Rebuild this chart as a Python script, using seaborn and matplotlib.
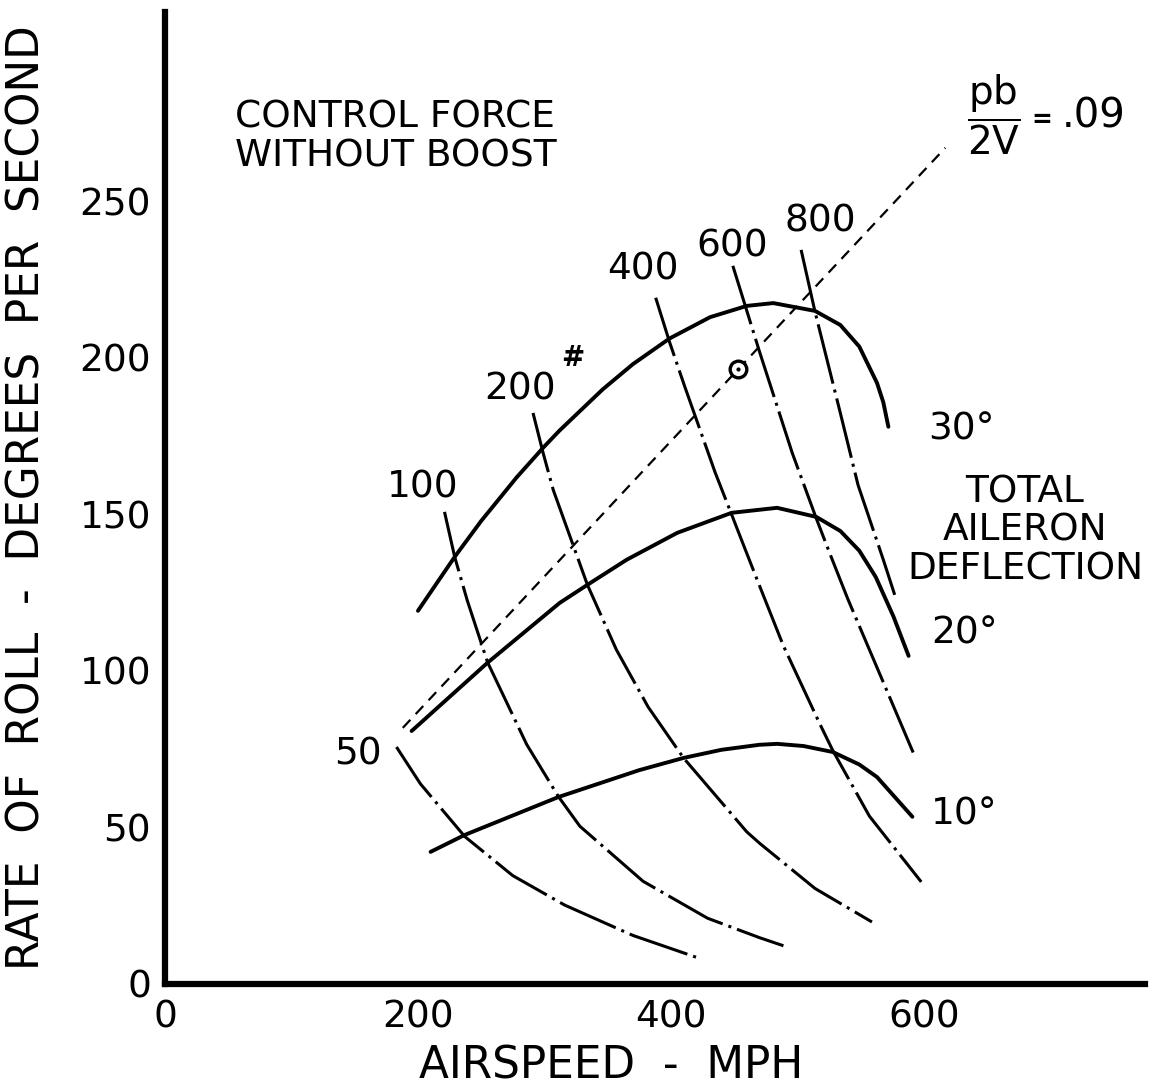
import matplotlib
matplotlib.use("Agg")
import matplotlib.pyplot as plt
import seaborn as sns

# Rate of roll vs airspeed
# solid curves = total aileron deflection (airspeed mph, roll deg/sec)
v30 = [200, 229, 250, 278, 299, 312, 346, 370, 399, 431, 460, 481, 514, 534, 549, 563, 568, 572]
r30 = [119.2, 136.4, 147.9, 161.8, 171.3, 176.8, 189.9, 198.0, 206.2, 213.0, 216.6, 217.5, 215.0, 210.5, 203.6, 192.0, 185.8, 178.0]

v20 = [195, 255, 312, 334, 365, 405, 448, 484, 515, 534, 549, 562, 576, 588]
r20 = [80.8, 102.6, 121.7, 127.5, 135.5, 144.1, 150.5, 152.1, 149.2, 144.7, 138.4, 130.0, 117.4, 104.8]

v10 = [210, 237, 311, 375, 410, 440, 470, 484, 505, 528, 549, 563, 591]
r10 = [42.2, 47.6, 59.7, 68.3, 72.2, 74.8, 76.4, 76.7, 76.0, 74.1, 70.1, 66.1, 53.4]

# dash-dot lines = stick force in lb
v50 = [183, 202, 237, 275, 316, 370, 421]
r50 = [75.7, 63.9, 47.1, 34.6, 25.2, 15.5, 8.4]

v100 = [221, 229, 239, 255, 286, 311, 328, 378, 429, 470, 489]
r100 = [150.8, 136.5, 122.5, 102.8, 76.5, 59.9, 50.4, 32.8, 21.0, 14.8, 12.2]

v200 = [291, 299, 307, 334, 357, 382, 410, 460, 470, 514, 559]
r200 = [182.4, 169.6, 157.8, 127.5, 106.7, 88.5, 72.2, 48.6, 45.0, 30.5, 19.8]

v400 = [388, 399, 411, 435, 448, 459, 470, 489, 518, 528, 557, 598]
r400 = [219.2, 205.0, 190.8, 163.4, 150.0, 138.6, 127.3, 108.0, 82.9, 74.6, 53.6, 32.6]

v600 = [449, 460, 470, 496, 515, 526, 540, 571, 593]
r600 = [229.4, 215.1, 202.1, 169.6, 148.7, 137.2, 122.9, 93.5, 72.6]

v800 = [503, 514, 534, 548, 568, 577]
r800 = [234.5, 214.7, 182.4, 159.4, 135.5, 124.3]

# pb/2V = .09 line and the marked point on it
v_pb = [188, 617]
r_pb = [81.8, 267.1]
v_pt = [453]
r_pt = [196.4]

x_ticks = [0, 200, 400, 600]
y_ticks = [0, 50, 100, 150, 200, 250]

deflections = [(v30, r30), (v20, r20), (v10, r10)]
forces = [(v50, r50), (v100, r100), (v200, r200), (v400, r400), (v600, r600), (v800, r800)]

sns.set_theme(style="white")
plt.rcParams['font.family'] = ['DejaVu Sans']
plt.rcParams['text.color'] = 'black'
plt.rcParams['axes.labelcolor'] = 'black'

fig = plt.figure(figsize=(11.63, 10.87), dpi=100)
ax = fig.add_axes([0.1419, 0.0948, 0.8427, 0.8942])

for v, r in deflections:
    sns.lineplot(x=v, y=r, ax=ax, color="black", linewidth=2.8,
                 estimator=None, sort=False)
    ax.lines[-1].set_solid_capstyle("round")
    ax.lines[-1].set_solid_joinstyle("round")

for v, r in forces:
    sns.lineplot(x=v, y=r, ax=ax, color="black", linewidth=2.2,
                 estimator=None, sort=False)
    ax.lines[-1].set_linestyle((0, (20, 2, 1, 2)))
    ax.lines[-1].set_dash_joinstyle("round")

sns.lineplot(x=v_pb, y=r_pb, ax=ax, color="black", linewidth=1.6,
             estimator=None, sort=False)
ax.lines[-1].set_linestyle((0, (5, 3.5)))

# the little target symbol
ax.plot(v_pt, r_pt, marker="o", ms=12, mfc="white", mec="black", mew=2.4, ls="none")
ax.plot(v_pt, r_pt, marker=".", ms=4, color="black", ls="none")

ax.set_xlim(0, 775)
ax.set_ylim(0, 310.5)
ax.set_xticks(x_ticks)
ax.set_yticks(y_ticks)
ax.tick_params(axis="both", length=0, labelsize=27, colors="black")
ax.tick_params(axis="x", pad=11)
ax.tick_params(axis="y", pad=10)

sns.despine(ax=ax)
for side in ["left", "bottom"]:
    ax.spines[side].set_linewidth(4.5)
    ax.spines[side].set_color("black")

ax.set_xlabel("AIRSPEED  -  MPH", fontsize=31.5)
ax.set_ylabel("RATE  OF  ROLL  -  DEGREES  PER  SECOND", fontsize=31.5)
ax.xaxis.set_label_coords(0.455, -0.062)
ax.yaxis.set_label_coords(-0.119, 0.5)

# annotations
ax.text(55, 270.5, "CONTROL FORCE\nWITHOUT BOOST", fontsize=27, ha="left",
        va="center", linespacing=1.1)
ax.text(680, 144.7, "TOTAL\nAILERON\nDEFLECTION", fontsize=27, ha="center",
        va="center", linespacing=1.1)
ax.text(630, 177, "30°", fontsize=27, ha="center", va="center")
ax.text(632, 112, "20°", fontsize=27, ha="center", va="center")
ax.text(632, 54, "10°", fontsize=27, ha="center", va="center")

force_labels = ["50", "100", "200", "400", "600", "800"]
force_label_pos = [(152.6, 73.2), (204, 158.5), (280.6, 189.8),
                   (377.9, 228.1), (448.2, 235.5), (517.8, 243.5)]
for lab, (lx, ly) in zip(force_labels, force_label_pos):
    ax.text(lx, ly, lab, fontsize=27, ha="center", va="center")
ax.text(322.5, 200, "#", fontsize=20, fontweight="bold", ha="center", va="center")

ax.text(655, 277.5, r"$\dfrac{\mathregular{pb}}{\mathregular{2V}}$", fontsize=28,
        ha="center", va="center")
ax.text(693, 276, "=", fontsize=18, fontweight="bold", ha="center", va="center")
ax.text(709, 277, ".09", fontsize=29, ha="left", va="center")

fig.savefig("out.png", dpi=100, facecolor="white")
